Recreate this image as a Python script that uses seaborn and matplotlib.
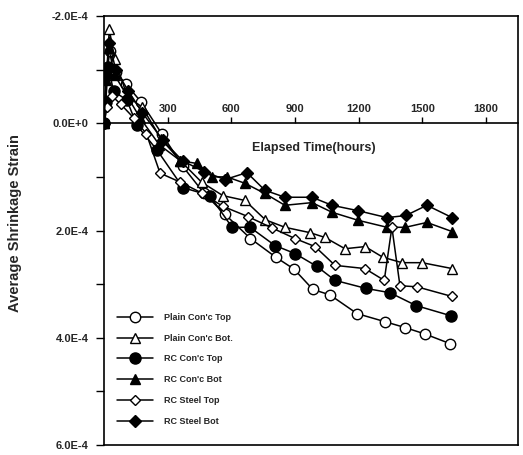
import matplotlib
matplotlib.use("Agg")
import matplotlib.pyplot as plt
import seaborn as sns
import pandas as pd
from matplotlib.ticker import FixedLocator, FixedFormatter, MultipleLocator, NullLocator

sns.set_theme(style="white")
plt.rcParams["font.family"] = ["Liberation Sans", "DejaVu Sans"]

# ---- data (strain in units of 1E-4, time in hours) ----
plain_top_h = [0, 15, 28, 55, 104, 174, 273, 370, 470, 570, 690, 810, 895, 984, 1064, 1192, 1323, 1418, 1512, 1630]
plain_top_v = [0, -1.0, -1.35, -0.95, -0.73, -0.4, 0.2, 0.8, 1.3, 1.7, 2.15, 2.5, 2.72, 3.1, 3.2, 3.55, 3.7, 3.81, 3.93, 4.11]

plain_bot_h = [0, 12, 25, 50, 110, 180, 270, 360, 460, 560, 664, 760, 852, 970, 1041, 1135, 1230, 1314, 1404, 1498, 1640]
plain_bot_v = [0, -0.9, -1.75, -1.2, -0.5, -0.3, 0.3, 0.7, 1.1, 1.35, 1.44, 1.8, 1.94, 2.04, 2.13, 2.34, 2.3, 2.5, 2.6, 2.6, 2.71]

rc_top_h = [0, 8, 20, 45, 108, 155, 250, 372, 499, 603, 688, 805, 900, 1003, 1088, 1234, 1347, 1470, 1634]
rc_top_v = [0, -0.4, -1.05, -0.6, -0.43, 0.04, 0.5, 1.2, 1.35, 1.94, 1.94, 2.28, 2.43, 2.67, 2.93, 3.08, 3.16, 3.4, 3.59]

rc_bot_h = [0, 10, 22, 50, 110, 170, 260, 360, 438, 510, 579, 664, 758, 852, 980, 1074, 1197, 1333, 1420, 1521, 1640]
rc_bot_v = [0, -0.8, -1.4, -0.9, -0.5, -0.1, 0.4, 0.7, 0.75, 1.0, 1.0, 1.12, 1.31, 1.53, 1.48, 1.66, 1.81, 1.94, 1.94, 1.85, 2.02]

steel_top_h = [0, 15, 40, 80, 140, 200, 264, 360, 460, 560, 678, 790, 900, 994, 1088, 1229, 1320, 1356, 1394, 1474, 1639]
steel_top_v = [0, -0.3, -0.5, -0.35, -0.1, 0.2, 0.93, 1.1, 1.3, 1.55, 1.74, 1.95, 2.15, 2.3, 2.65, 2.71, 2.93, 1.94, 3.03, 3.05, 3.23]

steel_bot_h = [0, 12, 25, 55, 115, 180, 278, 370, 470, 570, 673, 758, 852, 980, 1074, 1196, 1333, 1422, 1521, 1640]
steel_bot_v = [0, -0.9, -1.5, -1.0, -0.6, -0.2, 0.32, 0.7, 0.9, 1.05, 0.92, 1.25, 1.38, 1.38, 1.53, 1.63, 1.76, 1.72, 1.53, 1.76]

series_names = ["Plain Con'c Top", "Plain Con'c Bot.", "RC Con'c Top", "RC Con'c Bot", "RC Steel Top", "RC Steel Bot"]
series_h = [plain_top_h, plain_bot_h, rc_top_h, rc_bot_h, steel_top_h, steel_bot_h]
series_v = [plain_top_v, plain_bot_v, rc_top_v, rc_bot_v, steel_top_v, steel_bot_v]

y_ticks = [-2e-4, 0, 2e-4, 4e-4, 6e-4]
y_tick_labels = ["-2.0E-4", "0.0E+0", "2.0E-4", "4.0E-4", "6.0E-4"]
x_ticks = [300, 600, 900, 1200, 1500, 1800]
x_tick_labels = ["300", "600", "900", "1200", "1500", "1800"]

# ---- styles ----
markers = ["o", "^", "o", "^", "D", "D"]
faces = ["white", "white", "black", "black", "white", "black"]
msizes = [7.5, 6.5, 8, 6.5, 5.5, 6]

W, H = 523, 455
fig = plt.figure(figsize=(W / 100, H / 100), dpi=100)
ax = fig.add_axes([104 / W, 10 / H, 414 / W, 429 / H])

for name, hh, vv, m, fc, ms in zip(series_names, series_h, series_v, markers, faces, msizes):
    df = pd.DataFrame({"t": hh, "s": [v * 1e-4 for v in vv]})
    sns.lineplot(data=df, x="t", y="s", ax=ax, sort=False, color="black", lw=1.1,
                 marker=m, markersize=ms, markerfacecolor=fc, markeredgecolor="black",
                 markeredgewidth=1.0, label=name)

ax.set_xlim(0, 1950)
ax.set_ylim(6e-4, -2e-4)
ax.set_xlabel("")
ax.set_ylabel("")
ax.xaxis.set_major_locator(NullLocator())

ax.yaxis.set_major_locator(FixedLocator(y_ticks))
ax.yaxis.set_major_formatter(FixedFormatter(y_tick_labels))
ax.yaxis.set_minor_locator(MultipleLocator(1e-4))
ax.tick_params(axis="y", which="both", direction="out", length=6, width=1.0, color="black",
               left=True, labelsize=8, pad=5)
for lab in ax.get_yticklabels():
    lab.set_fontweight("bold")

for sp in ax.spines.values():
    sp.set_color("black")
    sp.set_linewidth(1.2)
    sp.set_visible(True)

# x axis drawn along y = 0
secax = ax.secondary_xaxis(0.75)
secax.set_xticks(x_ticks)
secax.set_xticklabels(x_tick_labels, fontweight="bold", fontsize=8)
secax.tick_params(axis="x", direction="out", length=4, width=1.0, color="black", pad=3)
secax.spines["top"].set_linewidth(1.2)
secax.spines["top"].set_color("black")
secax.spines["bottom"].set_visible(False)

fig.text(314 / W, 1 - 148 / H, "Elapsed Time(hours)", ha="center", va="center",
         fontsize=9, fontweight="bold")
fig.text(15 / W, 1 - 223 / H, "Average Shrinkage Strain", rotation=90, ha="center", va="center",
         fontsize=10.5, fontweight="bold")

leg = ax.legend(loc="upper left", bbox_to_anchor=(117 / W, 1 - 313 / H), bbox_transform=fig.transFigure,
                frameon=False, borderaxespad=0, borderpad=0, handlelength=4.0, handletextpad=1.2,
                labelspacing=1.3, prop={"size": 6.5, "weight": "bold"})

fig.savefig("out.png", dpi=100)
